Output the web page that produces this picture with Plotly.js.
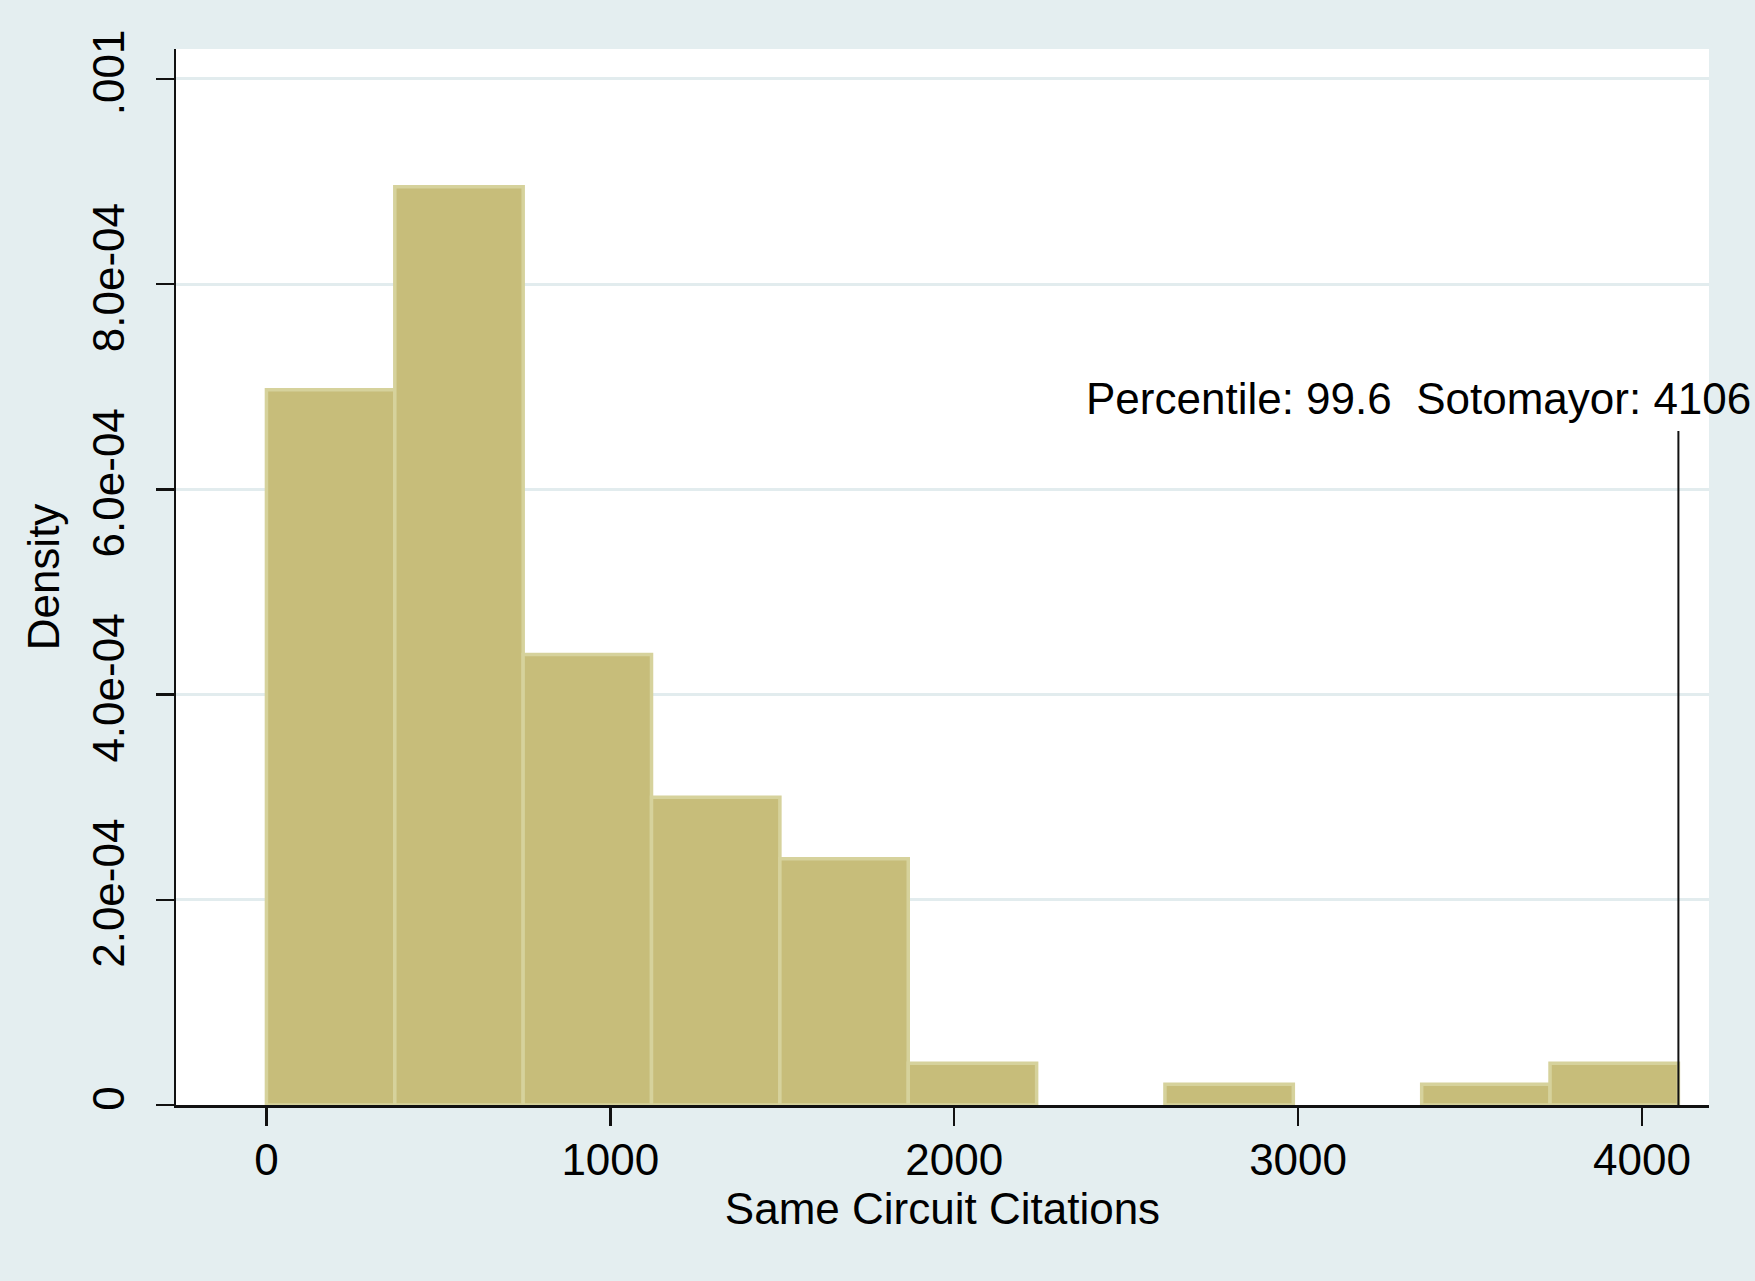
<!DOCTYPE html>
<html>
<head>
<meta charset="utf-8">
<script src="https://cdn.plot.ly/plotly-3.0.1.min.js"></script>
<style>
  html, body { margin: 0; padding: 0; background: #e4eef0; }
  #chart { width: 1755px; height: 1281px; }
</style>
</head>
<body>
<div id="chart"></div>
<script>
// Histogram bins (lower edges), common bin width, and density per bin
const binLower = [0, 373.3, 746.5, 1119.8, 1493.1, 1866.4, 2239.6, 2612.9, 2986.2, 3359.5, 3732.7];
const binWidth = 373.3;
const density = [6.97e-4, 8.95e-4, 4.39e-4, 3.00e-4, 2.40e-4, 4.06e-5, 0, 2.03e-5, 0, 2.03e-5, 4.06e-5];

// Marker line for Sotomayor
const sotomayorValue = 4106;
const markerLineTop = 6.57e-4;
const percentileLabel = "Percentile: 99.6  Sotomayor: 4106";

// Axis ticks
const xTickVals = [0, 1000, 2000, 3000, 4000];
const xTickText = ["0", "1000", "2000", "3000", "4000"];
const yTickVals = [0, 2e-4, 4e-4, 6e-4, 8e-4, 1e-3];
const yTickText = ["0", "2.0e-04", "4.0e-04", "6.0e-04", "8.0e-04", ".001"];

const FONT = "Liberation Sans, Arial, Helvetica, sans-serif";

// empty bins are not drawn (no outline on the axis)
const barHeights = density.map(v => (v === 0 ? null : v));

const traces = [
  {
    type: "bar",
    x: binLower,
    y: barHeights,
    width: binLower.map(() => binWidth),
    offset: 0,
    marker: { color: "#c7bd7a", line: { color: "#d6d29c", width: 3.5 } },
    hoverinfo: "x+y",
    showlegend: false
  },
  {
    type: "scatter",
    mode: "lines",
    x: [sotomayorValue, sotomayorValue],
    y: [0, markerLineTop],
    line: { color: "#111111", width: 2 },
    cliponaxis: false,
    showlegend: false
  }
];

const layout = {
  width: 1755,
  height: 1281,
  paper_bgcolor: "#e4eef0",
  plot_bgcolor: "#ffffff",
  margin: { l: 176, r: 46, t: 49, b: 176, pad: 0 },
  font: { family: FONT, size: 44, color: "#000000" },
  bargap: 0,
  showlegend: false,
  xaxis: {
    range: [-263, 4195],
    tickvals: xTickVals,
    ticktext: xTickText,
    ticks: "outside",
    ticklen: 18,
    tickwidth: 2.5,
    tickcolor: "#111111",
    showline: true,
    linecolor: "#111111",
    linewidth: 2.5,
    showgrid: false,
    zeroline: false,
    tickfont: { family: FONT, size: 44, color: "#000000" },
    ticklabelstandoff: -3,
    title: { text: "Same Circuit Citations", font: { family: FONT, size: 44, color: "#000000" }, standoff: 0 }
  },
  yaxis: {
    range: [0, 1.0292e-3],
    tickvals: yTickVals,
    ticktext: yTickText,
    tickangle: -90,
    ticks: "outside",
    ticklen: 18,
    tickwidth: 2.5,
    tickcolor: "#111111",
    showline: true,
    linecolor: "#111111",
    linewidth: 2.5,
    showgrid: true,
    gridcolor: "#e2ecee",
    gridwidth: 3,
    zeroline: false,
    tickfont: { family: FONT, size: 44, color: "#000000" },
    ticklabelstandoff: 14,
    title: { text: "Density", font: { family: FONT, size: 44, color: "#000000" }, standoff: 11 }
  },
  annotations: [
    {
      x: 3349,
      y: 6.89e-4,
      xref: "x",
      yref: "y",
      text: percentileLabel,
      showarrow: false,
      xanchor: "center",
      yanchor: "middle",
      font: { family: FONT, size: 44, color: "#000000" }
    }
  ]
};

Plotly.newPlot("chart", traces, layout, { displayModeBar: false, staticPlot: true });
</script>
</body>
</html>
